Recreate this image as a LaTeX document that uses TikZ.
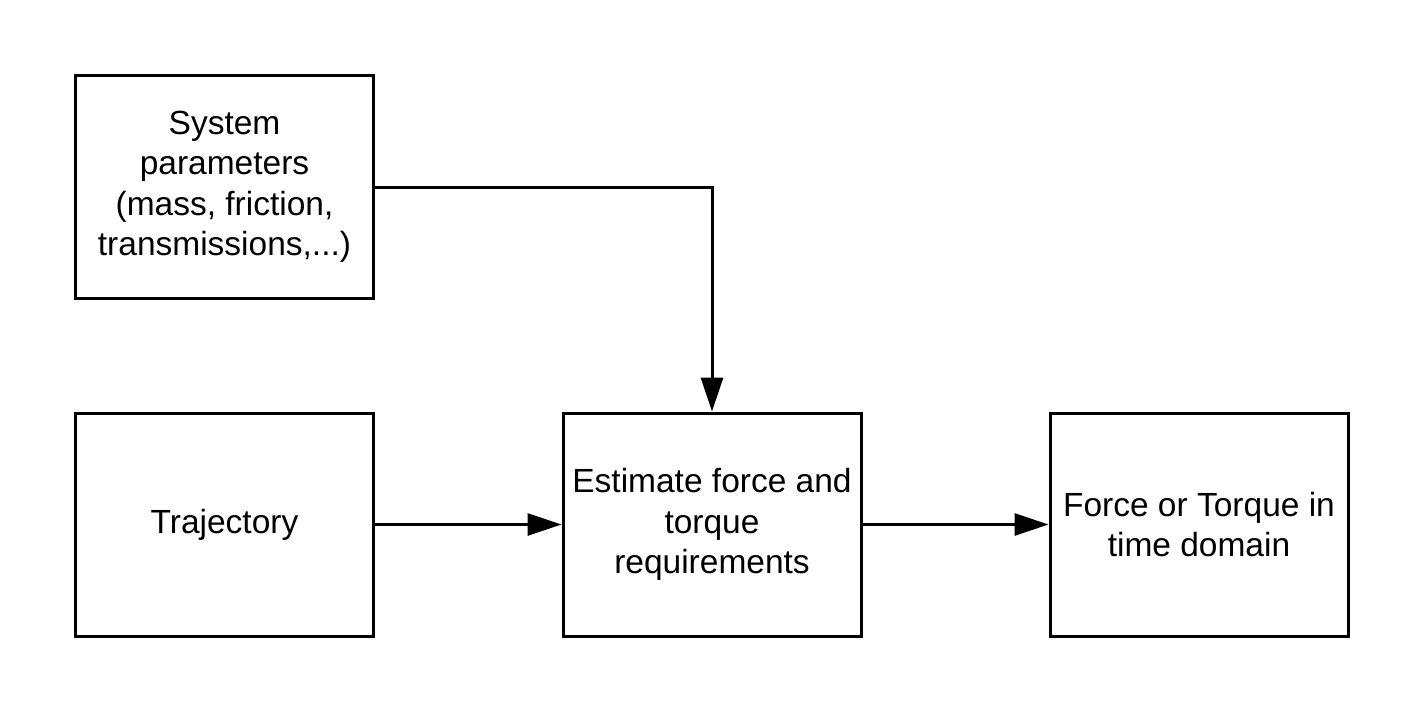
\documentclass[tikz,border=0pt]{standalone}
\usepackage{fontspec}
\setmainfont{Liberation Sans}
\usetikzlibrary{arrows.meta}
\begin{document}
\begin{tikzpicture}[x=1pt,y=-1pt,
  blk/.style={draw=black,line width=3pt,minimum width=298pt,minimum height=223pt,inner sep=0pt,align=center,font=\fontsize{33.5}{40.5}\selectfont},
  conn/.style={line width=3pt,-{Triangle[length=34pt,width=22pt]}}]
\useasboundingbox (0,0) rectangle (1425,713);
\node[blk] (sys) at (224.5,187) {System\\parameters\\(mass, friction,\\transmissions,...)};
\node[blk] (traj) at (224.5,524.5) {Trajectory};
\node[blk] (est) at (712,524.5) {Estimate force and\\torque\\requirements};
\node[blk] (out) at (1199,524.5) {Force or Torque in\\time domain};
\draw[conn] (sys.east) -| (est.north);
\draw[conn] (traj) -- (est);
\draw[conn] (est) -- (out);
\end{tikzpicture}
\end{document}
